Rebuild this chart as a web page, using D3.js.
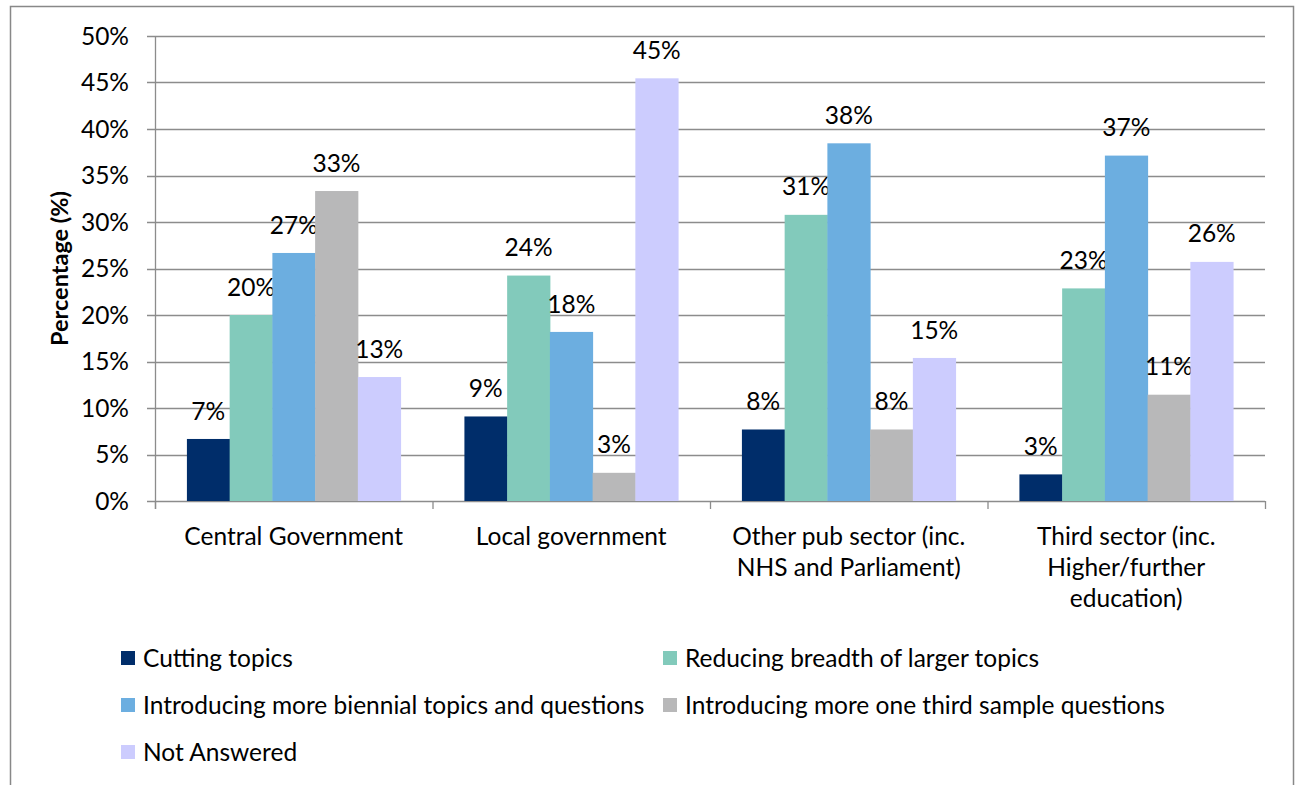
<!DOCTYPE html>
<html>
<head>
<meta charset="utf-8">
<script src="https://cdn.jsdelivr.net/npm/d3@7"></script>
<style>
  body { margin: 0; background: #fff; }
  svg { display: block; font-family: Lato, "Open Sans", sans-serif; }
</style>
</head>
<body>
<div id="chart"></div>
<script>
// categories and series
const categories = [
    ['Central Government'],
    ['Local government'],
    ['Other pub sector (inc.', 'NHS and Parliament)'],
    ['Third sector (inc.', 'Higher/further', 'education)']
];
const seriesNames = [
    'Cutting topics',
    'Reducing breadth of larger topics',
    'Introducing more biennial topics and questions',
    'Introducing more one third sample questions',
    'Not Answered'
];
const seriesColors = ['#002d6a', '#82cabb', '#6caee0', '#b8b8b9', '#ccccfe'];
// values in percent, one array per series (order follows categories)
const cuttingTopics = [6.67, 9.09, 7.69, 2.86];
const reducingBreadth = [20.0, 24.24, 30.77, 22.86];
const biennialTopics = [26.67, 18.18, 38.46, 37.14];
const oneThirdSample = [33.33, 3.03, 7.69, 11.43];
const notAnswered = [13.33, 45.45, 15.38, 25.71];
const yTicks = [0, 5, 10, 15, 20, 25, 30, 35, 40, 45, 50];

const series = [cuttingTopics, reducingBreadth, biennialTopics, oneThirdSample, notAnswered];

const width = 1298, height = 785;
const margin = { left: 155, right: 33, top: 36, bottom: 284 };
const fs = 24.5;

const svg = d3.select('#chart').append('svg')
    .attr('width', width)
    .attr('height', height);

// outer border of the chart area
svg.append('rect')
    .attr('x', 10.5).attr('y', 6.5)
    .attr('width', 1283).attr('height', 800)
    .attr('fill', 'none')
    .attr('stroke', '#888')
    .attr('stroke-width', 1.5);

const x0 = d3.scaleBand()
    .domain(d3.range(categories.length))
    .range([margin.left, width - margin.right])
    .paddingInner(0.23)
    .paddingOuter(0.115);

const x1 = d3.scaleBand()
    .domain(d3.range(series.length))
    .range([0, x0.bandwidth()]);

const y = d3.scaleLinear()
    .domain([0, 50])
    .range([height - margin.bottom, margin.top]);

// gridlines
svg.append('g')
    .selectAll('line')
    .data(yTicks)
    .enter().append('line')
    .attr('x1', margin.left - 8)
    .attr('x2', width - margin.right)
    .attr('y1', d => Math.round(y(d)) + 0.5)
    .attr('y2', d => Math.round(y(d)) + 0.5)
    .attr('stroke', '#8c8c8c')
    .attr('stroke-width', 1.3);

// y axis labels
svg.append('g')
    .selectAll('text')
    .data(yTicks)
    .enter().append('text')
    .attr('x', 129)
    .attr('y', d => y(d))
    .attr('dy', '0.35em')
    .attr('text-anchor', 'end')
    .attr('font-size', fs)
    .attr('fill', '#000')
    .text(d => d + '%');

// y axis line
svg.append('line')
    .attr('x1', margin.left + 0.5).attr('x2', margin.left + 0.5)
    .attr('y1', margin.top).attr('y2', height - margin.bottom + 8)
    .attr('stroke', '#8c8c8c').attr('stroke-width', 1.3);

// category ticks
const step = (width - margin.right - margin.left) / categories.length;
svg.append('g')
    .selectAll('line')
    .data(d3.range(categories.length + 1))
    .enter().append('line')
    .attr('x1', d => margin.left + d * step + 0.5)
    .attr('x2', d => margin.left + d * step + 0.5)
    .attr('y1', height - margin.bottom)
    .attr('y2', height - margin.bottom + 8)
    .attr('stroke', '#8c8c8c').attr('stroke-width', 1.3);

// bars
const groups = svg.append('g')
    .selectAll('g')
    .data(categories)
    .enter().append('g')
    .attr('transform', (d, i) => `translate(${x0(i)},0)`);

groups.each(function(c, ci) {
    const g = d3.select(this);
    series.forEach((s, si) => {
        const v = s[ci];
        g.append('rect')
            .attr('x', x1(si))
            .attr('width', x1.bandwidth() + 0.5)
            .attr('y', y(v))
            .attr('height', y(0) - y(v))
            .attr('fill', seriesColors[si]);
        g.append('text')
            .attr('x', x1(si) + x1.bandwidth() / 2)
            .attr('y', y(v) - 28)
            .attr('dy', '0.35em')
            .attr('text-anchor', 'middle')
            .attr('font-size', fs)
            .text(Math.round(v) + '%');
    });
});

// category labels
svg.append('g')
    .selectAll('text')
    .data(categories)
    .enter().append('text')
    .attr('text-anchor', 'middle')
    .attr('font-size', fs)
    .attr('x', (d, i) => margin.left + (i + 0.5) * step)
    .attr('y', 536)
    .each(function(lines) {
        d3.select(this).selectAll('tspan')
            .data(lines)
            .enter().append('tspan')
            .attr('x', d3.select(this).attr('x'))
            .attr('dy', (d, i) => i === 0 ? '0.35em' : 31)
            .text(d => d);
    });

// y axis title
svg.append('text')
    .attr('transform', `translate(60,${(y(0) + y(50)) / 2}) rotate(-90)`)
    .attr('text-anchor', 'middle')
    .attr('dy', '0.35em')
    .attr('font-size', fs - 1)
    .attr('font-weight', 'bold')
    .text('Percentage (%)');

// legend
const legendPos = [[121, 658], [663, 658], [121, 705], [663, 705], [121, 752]];
const legend = svg.append('g')
    .selectAll('g')
    .data(seriesNames)
    .enter().append('g')
    .attr('transform', (d, i) => `translate(${legendPos[i][0]},${legendPos[i][1]})`);

legend.append('rect')
    .attr('x', 0).attr('y', -7)
    .attr('width', 14).attr('height', 14)
    .attr('fill', (d, i) => seriesColors[i]);

legend.append('text')
    .attr('x', 22)
    .attr('dy', '0.35em')
    .attr('font-size', fs)
    .text(d => d);
</script>
</body>
</html>
